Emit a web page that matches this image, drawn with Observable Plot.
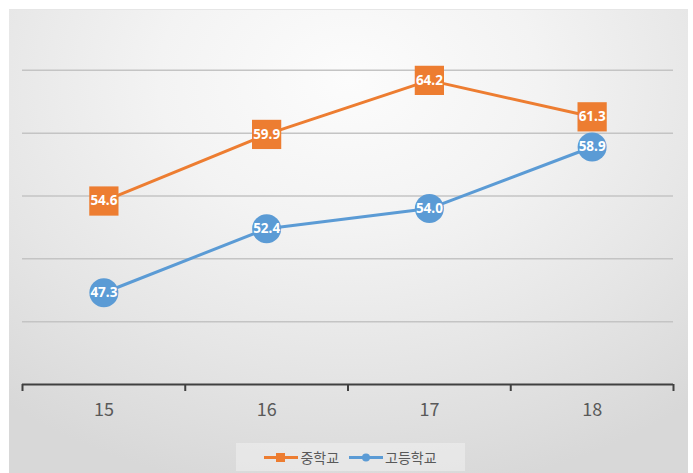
<!DOCTYPE html>
<html>
<head>
<meta charset="utf-8">
<script src="https://cdn.jsdelivr.net/npm/d3@7"></script>
<script src="https://cdn.jsdelivr.net/npm/@observablehq/plot@0.6"></script>
<style>
  html, body { margin: 0; padding: 0; background: #fff; }
  #wrap { position: relative; width: 693px; height: 473px; overflow: hidden; background: #fff; }
  #bg { position: absolute; left: 9px; top: 9px; width: 679px; height: 464px;
        background: radial-gradient(ellipse 80% 90% at 50% 15%, #fcfcfc 0%, #f3f3f3 35%, #e5e5e5 70%, #d8d8d8 100%);
        border-top: 1px solid #e6e6e6; }
  #chart { position: absolute; left: 0; top: 0; }
  #legend { position: absolute; left: 236px; top: 443px; width: 229px; height: 28px;
            background: rgba(240,240,240,0.55); display: flex; align-items: center; justify-content: center;
            font-family: "Noto Sans CJK KR", "Noto Sans", sans-serif; font-size: 14px; color: #595959; gap: 10px; }
  .item { display: flex; align-items: center; gap: 2px; }
</style>
</head>
<body>
<div id="wrap">
  <div id="bg"></div>
  <div id="chart"></div>
  <div id="legend"></div>
</div>
<script>
const years = [15, 16, 17, 18];
const middleSchool = [54.6, 59.9, 64.2, 61.3];
const highSchool = [47.3, 52.4, 54.0, 58.9];
const seriesNames = ["중학교", "고등학교"];
const seriesColors = ["#ED7D31", "#5B9BD5"];
const gridValues = [45, 50, 55, 60, 65];

const mid = years.map((y, i) => ({year: y, value: middleSchool[i], series: seriesNames[0]}));
const high = years.map((y, i) => ({year: y, value: highSchool[i], series: seriesNames[1]}));
const boundaries = years.map(y => y - 0.5).concat([years[years.length - 1] + 0.5]);

const labelStyle = {fill: "white", fontSize: 13.5, fontWeight: "bold", fontFamily: "'Noto Sans', sans-serif"};

const chart = Plot.plot({
  width: 693,
  height: 440,
  marginLeft: 22,
  marginRight: 20,
  marginTop: 7,
  marginBottom: 56,
  style: {background: "transparent", overflow: "visible"},
  x: {type: "linear", domain: [14.5, 18.5], axis: null},
  y: {domain: [40, 70], axis: null},
  marks: [
    Plot.ruleY(gridValues, {stroke: "#c4c4c4", strokeWidth: 1.5}),
    Plot.ruleY([40], {stroke: "#404040", strokeWidth: 2}),
    Plot.axisX({ticks: boundaries, tickSize: 7, tickFormat: () => "", label: null, stroke: "#404040", strokeWidth: 2}),
    Plot.axisX({ticks: years, tickSize: 0, tickPadding: 19, fontSize: 18, fill: "#595959", label: null,
                fontFamily: "'Noto Sans CJK KR', 'Noto Sans', sans-serif", tickFormat: d => String(d)}),
    Plot.line(mid, {x: "year", y: "value", stroke: seriesColors[0], strokeWidth: 3}),
    Plot.line(high, {x: "year", y: "value", stroke: seriesColors[1], strokeWidth: 3}),
    Plot.dot(mid, {x: "year", y: "value", symbol: "square", r: 16.5, fill: seriesColors[0], stroke: "none"}),
    Plot.dot(high, {x: "year", y: "value", symbol: "circle", r: 14.5, fill: seriesColors[1], stroke: "none"}),
    Plot.text(mid, {x: "year", y: "value", text: d => d.value.toFixed(1), ...labelStyle}),
    Plot.text(high, {x: "year", y: "value", text: d => d.value.toFixed(1), ...labelStyle})
  ]
});
document.getElementById("chart").appendChild(chart);

const legend = document.getElementById("legend");
seriesNames.forEach((name, i) => {
  const item = document.createElement("div");
  item.className = "item";
  const marker = i === 0
    ? `<rect x="12" y="4" width="9" height="9" fill="${seriesColors[i]}"/>`
    : `<circle cx="17" cy="8.5" r="4" fill="${seriesColors[i]}"/>`;
  item.innerHTML = `<svg width="34" height="17"><line x1="0" x2="34" y1="8.5" y2="8.5" stroke="${seriesColors[i]}" stroke-width="3"/>${marker}</svg><span>${name}</span>`;
  legend.appendChild(item);
});
</script>
</body>
</html>
